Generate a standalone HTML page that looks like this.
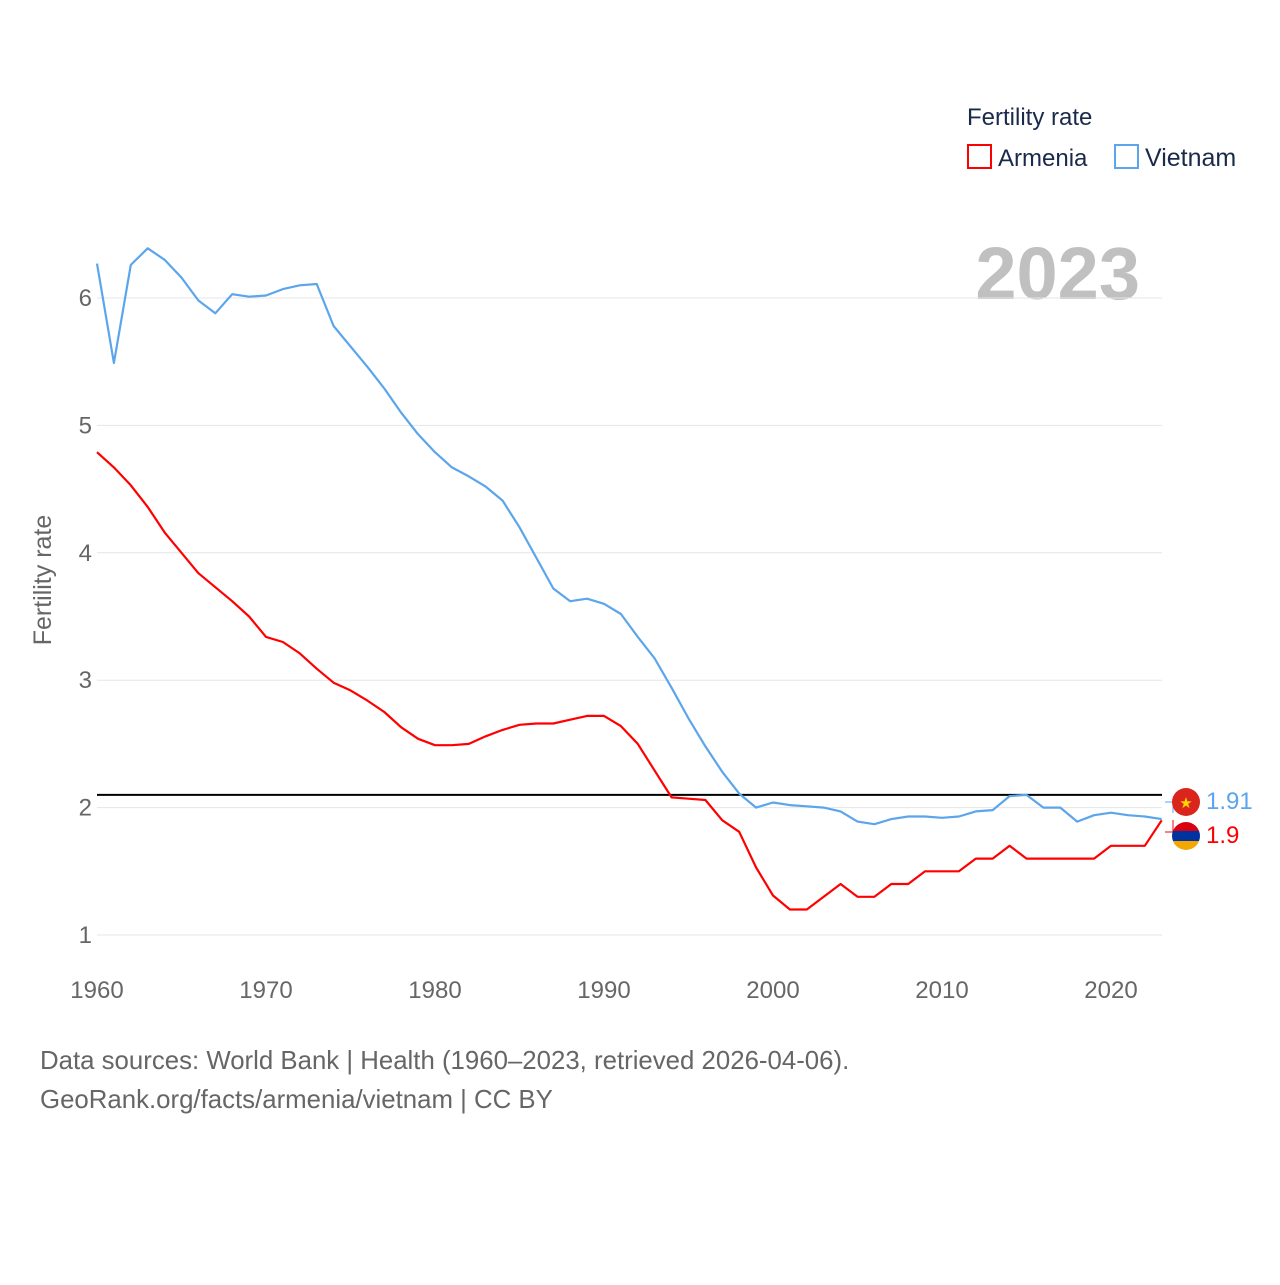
<!DOCTYPE html>
<html><head><meta charset="utf-8"><style>
body{margin:0;background:#fff;font-family:"Liberation Sans",sans-serif}
svg text{font-family:"Liberation Sans",sans-serif}
</style></head><body>
<svg id="chart" width="1280" height="1280" viewBox="0 0 1280 1280">
<text x="967" y="125" font-size="24" fill="#1a2a4a">Fertility rate</text>
<g><rect x="968" y="145" width="23" height="23" fill="none" stroke="#f00" stroke-width="2"/><text x="998" y="166" font-size="24" fill="#1a2a4a">Armenia</text></g>
<g><rect x="1115" y="145" width="23" height="23" fill="none" stroke="#5ba5ec" stroke-width="2"/><text x="1145" y="166" font-size="25" fill="#1a2a4a">Vietnam</text></g>
<text x="1140" y="299" font-size="74" font-weight="bold" fill="#c0c0c0" text-anchor="end">2023</text>
<text transform="translate(51,580) rotate(-90)" font-size="25" fill="#666" text-anchor="middle">Fertility rate</text>
<g id="grid"></g><g id="lines"></g>
<g>
<path d="M1173 813 V802 H1165" stroke="#5ba5ec" fill="none"/>
<path d="M1173 820 V832 H1165" stroke="#f00" fill="none"/>
<circle cx="1186" cy="802" r="14" fill="#da251d"/>
<text x="1186" y="808" font-size="15" fill="#ffd700" text-anchor="middle">★</text>
<clipPath id="am"><circle cx="1186" cy="836" r="14"/></clipPath>
<g clip-path="url(#am)"><rect x="1170" y="820" width="32" height="11" fill="#d90012"/><rect x="1170" y="831" width="32" height="10" fill="#0033a0"/><rect x="1170" y="841" width="32" height="12" fill="#f2a800"/></g>
<text x="1206" y="809" font-size="24" fill="#5ba5ec">1.91</text>
<text x="1206" y="843" font-size="24" fill="#f00">1.9</text>
</g>
<text x="40" y="1069" font-size="25.8" fill="#666">Data sources: World Bank | Health (1960–2023, retrieved 2026-04-06).</text>
<text x="40" y="1108" font-size="25.8" fill="#666">GeoRank.org/facts/armenia/vietnam | CC BY</text>
</svg>
<script>
const years=[];for(let y=1960;y<=2023;y++)years.push(y);
const vietnam=[6.27,5.49,6.26,6.39,6.30,6.16,5.98,5.88,6.03,6.01,6.02,6.07,6.10,6.11,5.78,5.62,5.46,5.29,5.10,4.93,4.79,4.67,4.60,4.52,4.41,4.20,3.96,3.72,3.62,3.64,3.60,3.52,3.34,3.17,2.94,2.70,2.48,2.28,2.11,2.00,2.04,2.02,2.01,2.00,1.97,1.89,1.87,1.91,1.93,1.93,1.92,1.93,1.97,1.98,2.09,2.10,2.00,2.00,1.89,1.94,1.96,1.94,1.93,1.91];
const armenia=[4.79,4.67,4.53,4.36,4.16,4.00,3.84,3.73,3.62,3.50,3.34,3.30,3.21,3.09,2.98,2.92,2.84,2.75,2.63,2.54,2.49,2.49,2.50,2.56,2.61,2.65,2.66,2.66,2.69,2.72,2.72,2.64,2.50,2.29,2.08,2.07,2.06,1.90,1.81,1.53,1.31,1.20,1.20,1.30,1.40,1.30,1.30,1.40,1.40,1.50,1.50,1.50,1.60,1.60,1.70,1.60,1.60,1.60,1.60,1.60,1.70,1.70,1.70,1.90];
const yTicks=[1,2,3,4,5,6];
const xTicks=[1960,1970,1980,1990,2000,2010,2020];
const replacement=2.1;
const X=y=>97+(y-1960)*16.9;
const Y=v=>935-(v-1)*127.4;
const NS="http://www.w3.org/2000/svg";
const grid=document.getElementById('grid'),lines=document.getElementById('lines');
function mk(tag,attrs,parent,txt){const e=document.createElementNS(NS,tag);for(const k in attrs)e.setAttribute(k,attrs[k]);if(txt!=null)e.textContent=txt;parent.appendChild(e);return e;}
yTicks.forEach(t=>{
 const l=mk('line',{x1:97,x2:1162,y1:Y(t),y2:Y(t),stroke:'#e6e6e6','stroke-width':1},grid);
 
 
 const tx=mk('text',{x:92,y:Y(t)+8,'font-size':24,fill:'#666','text-anchor':'end'},grid,String(t));
 
 
});
xTicks.forEach(t=>{
 const tx=mk('text',{x:X(t),y:998,'font-size':24,fill:'#666','text-anchor':'middle'},grid,String(t));
 
 
});
const rl=mk('line',{x1:97,x2:1162,y1:Y(replacement),y2:Y(replacement),stroke:'#000','stroke-width':2},lines);


function series(vals,color,name){
 const d=vals.map((v,i)=>(i?'L':'M')+X(years[i]).toFixed(1)+' '+Y(v).toFixed(1)).join(' ');
 const p=mk('path',{d:d,fill:'none',stroke:color,'stroke-width':2.2,'stroke-linejoin':'round'},lines);
 
 
}
series(vietnam,'#5ba5ec','vietnam-line');
series(armenia,'#f00','armenia-line');
</script>
</body></html>
